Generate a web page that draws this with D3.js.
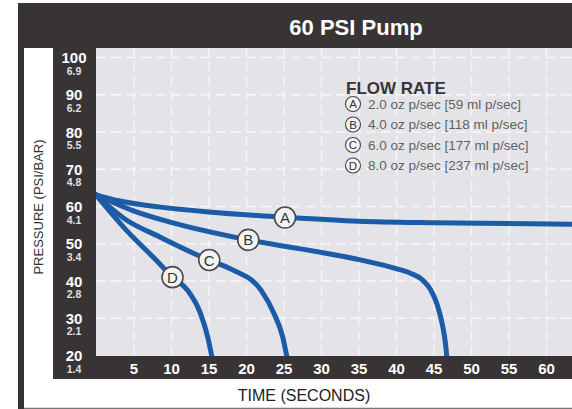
<!DOCTYPE html>
<html>
<head>
<meta charset="utf-8">
<script src="https://cdn.jsdelivr.net/npm/d3@7"></script>
<style>
  body { margin: 0; background: #fff; }
  svg { display: block; font-family: "Liberation Sans", Arial, sans-serif; }
</style>
</head>
<body>
<div id="chart"></div>
<script>
// ── data
const timeTicks = [5, 10, 15, 20, 25, 30, 35, 40, 45, 50, 55, 60];
const psiTicks  = [100, 90, 80, 70, 60, 50, 40, 30, 20];
const barTicks  = ['6.9', '6.2', '5.5', '4.8', '4.1', '3.4', '2.8', '2.1', '1.4'];

const seriesKeys  = ['A', 'B', 'C', 'D'];
const flowLabels  = [
  '2.0 oz p/sec [59 ml p/sec]',
  '4.0 oz p/sec [118 ml p/sec]',
  '6.0 oz p/sec [177 ml p/sec]',
  '8.0 oz p/sec [237 ml p/sec]'
];

// [time (s), pressure (psi)]
const curveA = [[0, 63], [3, 61.4], [8.6, 59.7], [15, 58.4], [25, 57], [35, 55.9],
                [45, 55.5], [55, 55.3], [64, 55.1]];
const curveB = [[0, 63], [5, 58.7], [10, 55.6], [20, 51], [31, 47.2], [36, 45.2],
                [40, 43.2], [42, 41.9], [43.5, 40.2], [44.6, 37.6], [45.5, 33.5], [46.2, 28],
                [46.6, 23], [46.8, 19]];
const curveC = [[0, 63], [4, 56.3], [8.5, 51.7], [15, 45.5], [18.3, 42.8], [22, 37.4],
                [23.7, 31.3], [24.9, 24.8], [25.5, 19]];
const curveD = [[0, 63], [4, 53.6], [8, 45.5], [10.2, 40.9], [12.2, 37.4], [13.9, 31.3],
                [14.9, 24.8], [15.5, 19]];
const curves = [curveA, curveB, curveC, curveD];

// where the letter badges sit on each curve
const badgePoints = [[25.2, 56.9], [20.3, 50.9], [15.1, 45.5], [10.2, 40.9]];

// ── layout
const W = 572, H = 409;
const dark = '#383435';
const plot = { left: 96, right: 572, top: 48, bottom: 356 };

const svg = d3.select('#chart').append('svg')
  .attr('width', W)
  .attr('height', H);

// frame: dark shell, white inner panel, axis bands, plot area
svg.append('rect').attr('x', 18).attr('y', 3).attr('width', W - 18).attr('height', H - 3).attr('fill', dark);
svg.append('rect').attr('x', 24).attr('y', plot.top).attr('width', W - 24).attr('height', H - plot.top - 1).attr('fill', '#fff');
svg.append('rect').attr('x', 53).attr('y', plot.top).attr('width', plot.left - 53).attr('height', 379 - plot.top).attr('fill', dark);
svg.append('rect').attr('x', 53).attr('y', plot.bottom).attr('width', W - 53).attr('height', 379 - plot.bottom).attr('fill', dark);
svg.append('rect').attr('x', plot.left).attr('y', plot.top)
  .attr('width', plot.right - plot.left).attr('height', plot.bottom - plot.top)
  .attr('fill', '#e4e4e8');
svg.append('line').attr('x1', 24).attr('x2', W).attr('y1', 408).attr('y2', 408)
  .attr('stroke', '#b8b8b8').attr('stroke-width', 1);

// title
svg.append('text')
  .attr('x', 356).attr('y', 35)
  .attr('text-anchor', 'middle')
  .attr('fill', '#fff')
  .attr('font-size', '22px')
  .attr('font-weight', 'bold')
  .text('60 PSI Pump');

// scales
const x = d3.scaleLinear().domain([0, 60]).range([plot.left, 546]);
const y = d3.scaleLinear().domain([20, 100]).range([355, 57]);

// grid (dashed white)
const grid = svg.append('g').attr('class', 'grid');
grid.append('g')
  .attr('transform', `translate(0,${plot.bottom})`)
  .call(d3.axisBottom(x).tickValues(timeTicks).tickSize(-(plot.bottom - plot.top)).tickFormat(''))
  .call(g => g.select('.domain').remove());
grid.append('g')
  .attr('transform', `translate(${plot.left},0)`)
  .call(d3.axisLeft(y).tickValues(psiTicks.filter(v => v > 20)).tickSize(-(plot.right - plot.left)).tickFormat(''))
  .call(g => g.select('.domain').remove());
grid.selectAll('.tick line')
  .attr('stroke', '#f6f6f8')
  .attr('stroke-width', 1.3)
  .attr('stroke-dasharray', '10,5');

// x axis labels
svg.append('g')
  .attr('transform', `translate(0,${plot.bottom})`)
  .call(d3.axisBottom(x).tickValues(timeTicks).tickSize(0).tickPadding(0))
  .call(g => g.select('.domain').remove())
  .call(g => g.selectAll('.tick text')
    .attr('y', 17.5).attr('dy', null)
    .attr('fill', '#fff')
    .attr('font-size', '15px')
    .attr('font-weight', 'bold')
    .attr('font-family', '"Liberation Sans", Arial, sans-serif'));

// y axis labels: psi with bar underneath
const yAxis = svg.append('g')
  .attr('transform', 'translate(74,0)')
  .call(d3.axisLeft(y).tickValues(psiTicks).tickSize(0).tickFormat(''))
  .call(g => g.select('.domain').remove());
yAxis.selectAll('.tick').each(function (d, i) {
  const t = d3.select(this);
  t.select('text').remove();
  t.append('text')
    .attr('y', 5.5)
    .attr('text-anchor', 'middle')
    .attr('fill', '#fff')
    .attr('font-size', '15px')
    .attr('font-weight', 'bold')
    .text(d);
  t.append('text')
    .attr('y', 17)
    .attr('text-anchor', 'middle')
    .attr('fill', '#e0e0e0')
    .attr('font-size', '10.5px')
    .attr('font-weight', 'bold')
    .text(barTicks[i]);
});

// axis titles
svg.append('text')
  .attr('transform', 'translate(43,207) rotate(-90)')
  .attr('text-anchor', 'middle')
  .attr('fill', '#333')
  .attr('font-size', '13px')
  .text('PRESSURE (PSI/BAR)');

svg.append('text')
  .attr('x', 304).attr('y', 401)
  .attr('text-anchor', 'middle')
  .attr('fill', '#222')
  .attr('font-size', '16px')
  .text('TIME (SECONDS)');

// curves, clipped to the plot
svg.append('clipPath').attr('id', 'plot-clip')
  .append('rect')
  .attr('x', plot.left).attr('y', plot.top)
  .attr('width', plot.right - plot.left).attr('height', plot.bottom - plot.top);

const line = d3.line()
  .x(d => x(d[0]))
  .y(d => y(d[1]))
  .curve(d3.curveMonotoneX);

svg.append('g')
  .attr('clip-path', 'url(#plot-clip)')
  .selectAll('path')
  .data(curves)
  .enter()
  .append('path')
    .attr('d', line)
    .attr('fill', 'none')
    .attr('stroke', '#1c5ba6')
    .attr('stroke-width', 5)
    .attr('stroke-linecap', 'round');

// letter badges on curves
const badges = svg.append('g')
  .selectAll('g')
  .data(seriesKeys)
  .enter()
  .append('g')
    .attr('transform', (d, i) => `translate(${x(badgePoints[i][0])},${y(badgePoints[i][1])})`);
badges.append('circle')
  .attr('r', 10.5)
  .attr('fill', '#f3f3f3')
  .attr('stroke', '#4a4a4a')
  .attr('stroke-width', 1.6);
badges.append('text')
  .attr('y', 5.5)
  .attr('text-anchor', 'middle')
  .attr('fill', '#333')
  .attr('font-size', '15px')
  .text(d => d);

// legend
const legend = svg.append('g').attr('transform', 'translate(346,0)');
legend.append('text')
  .attr('x', 0).attr('y', 94)
  .attr('fill', '#383435')
  .attr('font-size', '17px')
  .attr('font-weight', 'bold')
  .text('FLOW RATE');

seriesKeys.forEach((k, i) => {
  const row = legend.append('g')
    .attr('transform', `translate(0, ${104 + i * 20.5})`);
  row.append('circle')
    .attr('cx', 7).attr('cy', 0)
    .attr('r', 7.5)
    .attr('fill', '#f3f3f3')
    .attr('stroke', '#444')
    .attr('stroke-width', 1.1);
  row.append('text')
    .attr('x', 7).attr('y', 4)
    .attr('text-anchor', 'middle')
    .attr('fill', '#333')
    .attr('font-size', '11.5px')
    .text(k);
  row.append('text')
    .attr('x', 22).attr('y', 4.5)
    .attr('fill', '#616161')
    .attr('font-size', '13.5px')
    .text(flowLabels[i]);
});
</script>
</body>
</html>
